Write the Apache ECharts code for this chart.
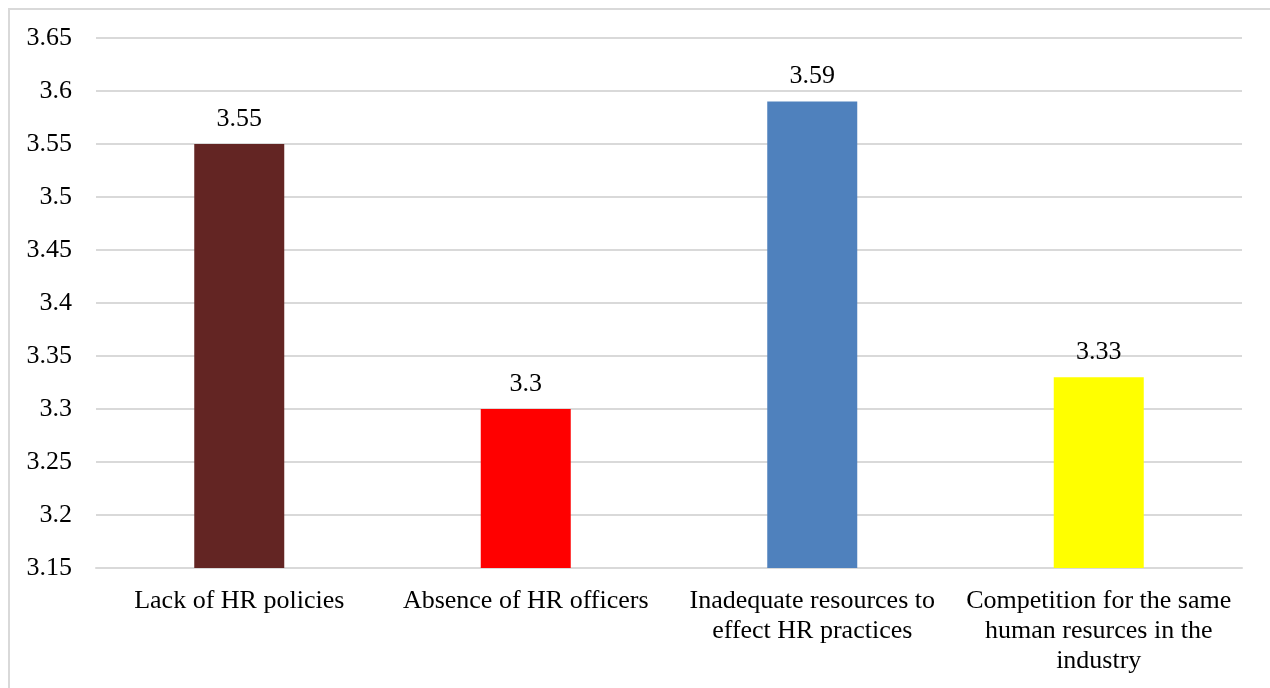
<!DOCTYPE html>
<html>
<head>
<meta charset="utf-8">
<script src="https://cdn.jsdelivr.net/npm/echarts@6/dist/echarts.min.js"></script>
<style>
  html, body { margin: 0; padding: 0; background: #fff; }
  #frame { position: absolute; left: 8px; top: 8px; width: 1270px; height: 688px; border-left: 2px solid #d9d9d9; border-top: 2px solid #d9d9d9; }
  #chart { position: absolute; left: 0; top: 0; width: 1270px; height: 688px; }
</style>
</head>
<body>
<div id="frame"></div>
<div id="chart"></div>
<script>
  // values
  var categories = [
    'Lack of HR policies',
    'Absence of HR officers',
    'Inadequate resources to\neffect HR practices',
    'Competition for the same\nhuman resurces in the\nindustry'
  ]
  var scores = [3.55, 3.3, 3.59, 3.33]
  var barColors = ['#632523', '#ff0000', '#4f81bd', '#ffff00']
  var yMin = 3.15
  var yMax = 3.65
  var yStep = 0.05

  var font = '"Liberation Serif", "Times New Roman", serif'
  var chart = echarts.init(document.getElementById('chart'))

  chart.setOption({
    animation: false,
    textStyle: { fontFamily: font },
    grid: { left: 96, right: 28, top: 38, bottom: 120 },
    xAxis: {
      type: 'category',
      data: categories,
      axisTick: { show: false },
      axisLine: { lineStyle: { color: '#d9d9d9', width: 2 } },
      axisLabel: {
        color: '#000',
        fontSize: 26,
        fontFamily: font,
        lineHeight: 30,
        margin: 18,
        interval: 0
      }
    },
    yAxis: {
      type: 'value',
      min: yMin,
      max: yMax,
      interval: yStep,
      axisLine: { show: false },
      axisTick: { show: false },
      splitLine: { lineStyle: { color: '#d9d9d9', width: 2 } },
      axisLabel: {
        color: '#000',
        fontSize: 26,
        fontFamily: font,
        margin: 24,
        formatter: function (v) { return String(parseFloat(v.toFixed(2))) }
      }
    },
    series: [{
      type: 'bar',
      barWidth: 90,
      data: scores.map(function (v, i) {
        return { value: v, itemStyle: { color: barColors[i] } }
      }),
      label: {
        show: true,
        position: 'top',
        distance: 12,
        color: '#000',
        fontSize: 26,
        fontFamily: font
      }
    }]
  })
</script>
</body>
</html>
